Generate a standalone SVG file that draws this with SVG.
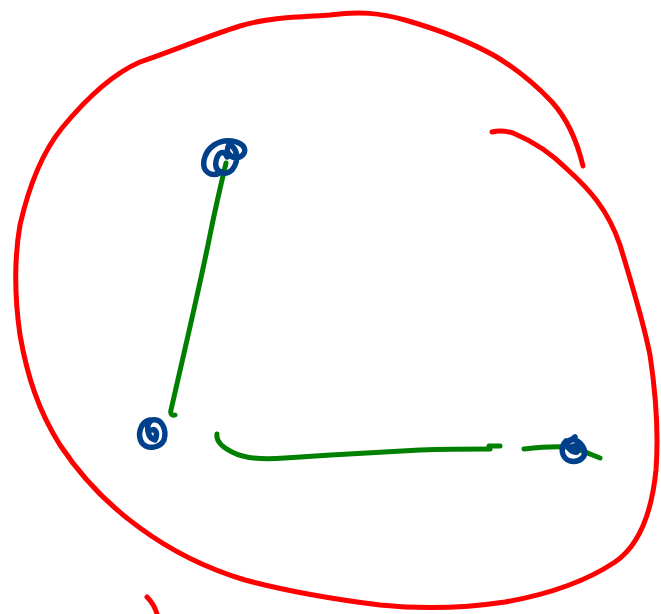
<svg xmlns="http://www.w3.org/2000/svg" width="661" height="614" viewBox="0 0 661 614">
<style>
.r{fill:none;stroke:#ff0000;stroke-width:5;stroke-linecap:round;stroke-linejoin:round}
.g{fill:none;stroke:#008000;stroke-width:5;stroke-linecap:round;stroke-linejoin:round}
.b{fill:none;stroke:#003f8a;stroke-width:5.5;stroke-linecap:round;stroke-linejoin:round}
</style>
<rect width="661" height="614" fill="#ffffff"/>
<g id="outline">
<path class="r" d="M583,166 C578,145 570,122 552,102 C535,84 515,68 495,56 C470,42 440,30 405,20 C380,13 360,11 330,15 C300,17 270,17 240,26 C205,37 175,50 140,62 C110,75 85,100 62,128 C40,155 28,190 20,225 C14,260 15,300 20,335 C27,375 38,410 60,445 C80,475 108,505 140,528 C170,550 205,568 245,580 C290,592 340,600 380,605 C420,609 465,608 505,602 C545,595 585,582 615,562 C640,545 652,510 656,470 C659,430 656,395 650,355 C643,320 632,285 620,245 C608,210 590,190 568,170 C550,152 530,140 513,133 C503,130 496,131 492,132"/>
<path class="r" d="M147,597 C152,602 155,607 157,614"/>
</g>
<g id="connectors">
<path class="g" d="M226,163 C222,180 216,205 210,235 C203,270 195,305 187,340 C180,370 175,392 171,410 C170,414 172,416 175,415"/>
<path class="g" d="M217,434 C216,440 220,446 232,452 C245,459 262,460 285,458 C330,455 380,452 420,450 C450,449 470,449 490,449"/>
<path class="g" d="M489,446 L500,446"/>
<path class="g" d="M524,449 C540,447 555,446 570,447 C582,450 592,455 600,458"/>
</g>
<g id="node1">
<path class="b" d="M222,172 C211,178 202,172 204,160 C207,147 219,139 232,141 C245,143 249,152 240,157 C231,160 224,151 229,145 C237,147 240,160 232,170 C224,177 214,171 216,161 C218,151 225,150 227,157"/>
</g>
<g id="node2">
<path class="b" d="M150,420 C140,422 137,435 142,443 C148,450 160,448 164,440 C167,430 162,418 152,420 C145,424 147,438 155,440 C158,434 156,428 152,430"/>
</g>
<g id="node3">
<path class="b" d="M566,441 C560,447 561,458 570,461 C580,463 587,456 584,449 C581,442 574,437 568,441 C566,447 571,453 577,452 C580,448 576,444 572,447 M570,441 L575,437"/>
</g>
</svg>
